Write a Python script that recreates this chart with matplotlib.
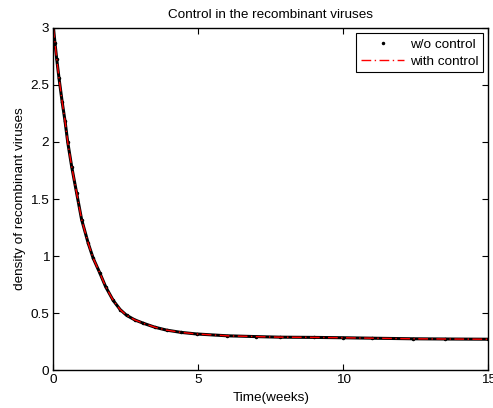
import matplotlib
matplotlib.use("Agg")
import matplotlib.pyplot as plt

# values
t_wo = [0, 0.05, 0.11, 0.19, 0.30, 0.40, 0.49, 0.63, 0.80, 0.97, 1.20, 1.37,
        1.60, 1.80, 2.06, 2.30, 2.52, 2.80, 3.10, 3.50, 3.90, 4.40, 4.94,
        6.0, 7.0, 7.8, 9.0, 10.0, 11.0, 12.4, 13.5, 15.0]
y_wo = [3.0, 2.87, 2.73, 2.56, 2.35, 2.18, 2.00, 1.78, 1.55, 1.32, 1.11, 0.98,
        0.85, 0.73, 0.61, 0.53, 0.48, 0.44, 0.41, 0.375, 0.35, 0.33, 0.316,
        0.30, 0.293, 0.288, 0.286, 0.283, 0.279, 0.274, 0.272, 0.270]

t_with = t_wo
y_with = [3.0, 2.87, 2.73, 2.56, 2.35, 2.18, 2.00, 1.78, 1.55, 1.32, 1.11, 0.98,
          0.85, 0.73, 0.61, 0.53, 0.48, 0.44, 0.41, 0.375, 0.35, 0.33, 0.316,
          0.30, 0.293, 0.288, 0.286, 0.283, 0.279, 0.274, 0.272, 0.270]

plt.rcParams['font.family'] = ['Liberation Sans', 'DejaVu Sans']
plt.rcParams['font.size'] = 9.7

fig = plt.figure(figsize=(4.93, 4.08), dpi=100)
ax = fig.add_axes([0.1085, 0.0931, 0.882, 0.8383])

# w/o control: dense black dots (drawn as a thick line + dots)
ax.plot(t_wo, y_wo, color="black", linewidth=2.2, solid_capstyle="round")
ax.plot(t_wo, y_wo, linestyle="none", marker=".", markersize=3, color="black",
        label="w/o control")
# with control: red dash-dot on top
ax.plot(t_with, y_with, linestyle="-.", color="red", linewidth=1.0,
        dashes=(7, 2.5, 1, 2.5), label="with control")

ax.set_xlim(0, 15)
ax.set_ylim(0, 3)
ax.set_xticks([0, 5, 10, 15])
ax.set_yticks([0, 0.5, 1, 1.5, 2, 2.5, 3])
ax.set_yticklabels(["0", "0.5", "1", "1.5", "2", "2.5", "3"])
ax.tick_params(direction="in", top=True, right=True, length=4, width=0.8,
               labelsize=9.7, pad=3)
for s in ax.spines.values():
    s.set_linewidth(1.0)

ax.set_xlabel("Time(weeks)", labelpad=4)
ax.set_ylabel("density of recombinant viruses", labelpad=3)
ax.set_title("Control in the recombinant viruses", fontsize=9.7, pad=7)

leg = ax.legend(loc="upper right", fancybox=False, edgecolor="black",
                framealpha=1, borderaxespad=0.4, handlelength=3.2,
                borderpad=0.35, labelspacing=0.35, handletextpad=0.4)
leg.get_frame().set_linewidth(0.8)

fig.savefig("out.png", dpi=100)
